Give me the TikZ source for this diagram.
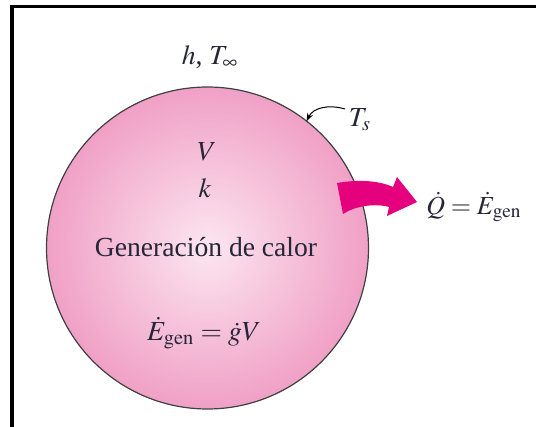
\documentclass[tikz,border=0pt]{standalone}
\usepackage{mathptmx}
\usepackage[no-math]{fontspec}
\setmainfont{Liberation Serif}
\usepackage{tikz}
\usepackage{xcolor}
\usetikzlibrary{arrows.meta,shapes}
\definecolor{spherein}{HTML}{FCE6F0}
\definecolor{sphereout}{HTML}{F0A0C6}
\definecolor{heatpink}{HTML}{E5007D}
\definecolor{inktext}{HTML}{262638}
\tikzset{
  sphere/.style={circle,draw=black!75,line width=0.6pt,shading=radial,
    inner color=spherein,outer color=sphereout,minimum size=161pt,inner sep=0pt,outer sep=0pt},
  lbl/.style={text=inktext,font=\fontsize{13.8}{16}\selectfont,inner sep=1pt},
  heat/.style={fill=heatpink}
}

\begin{document}
\begin{tikzpicture}[x=0.5pt,y=-0.5pt,>=Stealth]
\useasboundingbox (0,0) rectangle (536,427);
\draw[line width=1.8pt](536,6.5)--(12,6.5)--(12,427);
\node[sphere](ball) at (207.5,248){};
\node[lbl](hT) at (210,57){$h$, $T_\infty$};
\node[lbl](Ts) at (360,120){$T_s$};
\draw[-{Stealth[length=4pt,width=3pt]},line width=0.5pt](345,109) .. controls (328,104) and (313,108) .. (ball.52);
\node[lbl](V) at (207,152){$V$};
\node[lbl](k) at (205,188){$k$};
\node[lbl](gen) at (206,247){Generación de calor};
\node[lbl](Egen) at (204,333){$\dot{E}_{\mathrm{gen}}=\dot{g}V$};
\fill[heat](337,183) .. controls (360,179) and (380,181) .. (393,187)--(397,177)--(417,202)--(387,216)--(389,207)
  .. controls (375,203) and (355,206) .. (343,214)--cycle;
\node[lbl,anchor=west,font=\fontsize{13}{15}\selectfont](Q) at (424,207){$\dot{Q}=\dot{E}_{\mathrm{gen}}$};
\end{tikzpicture}
\end{document}
